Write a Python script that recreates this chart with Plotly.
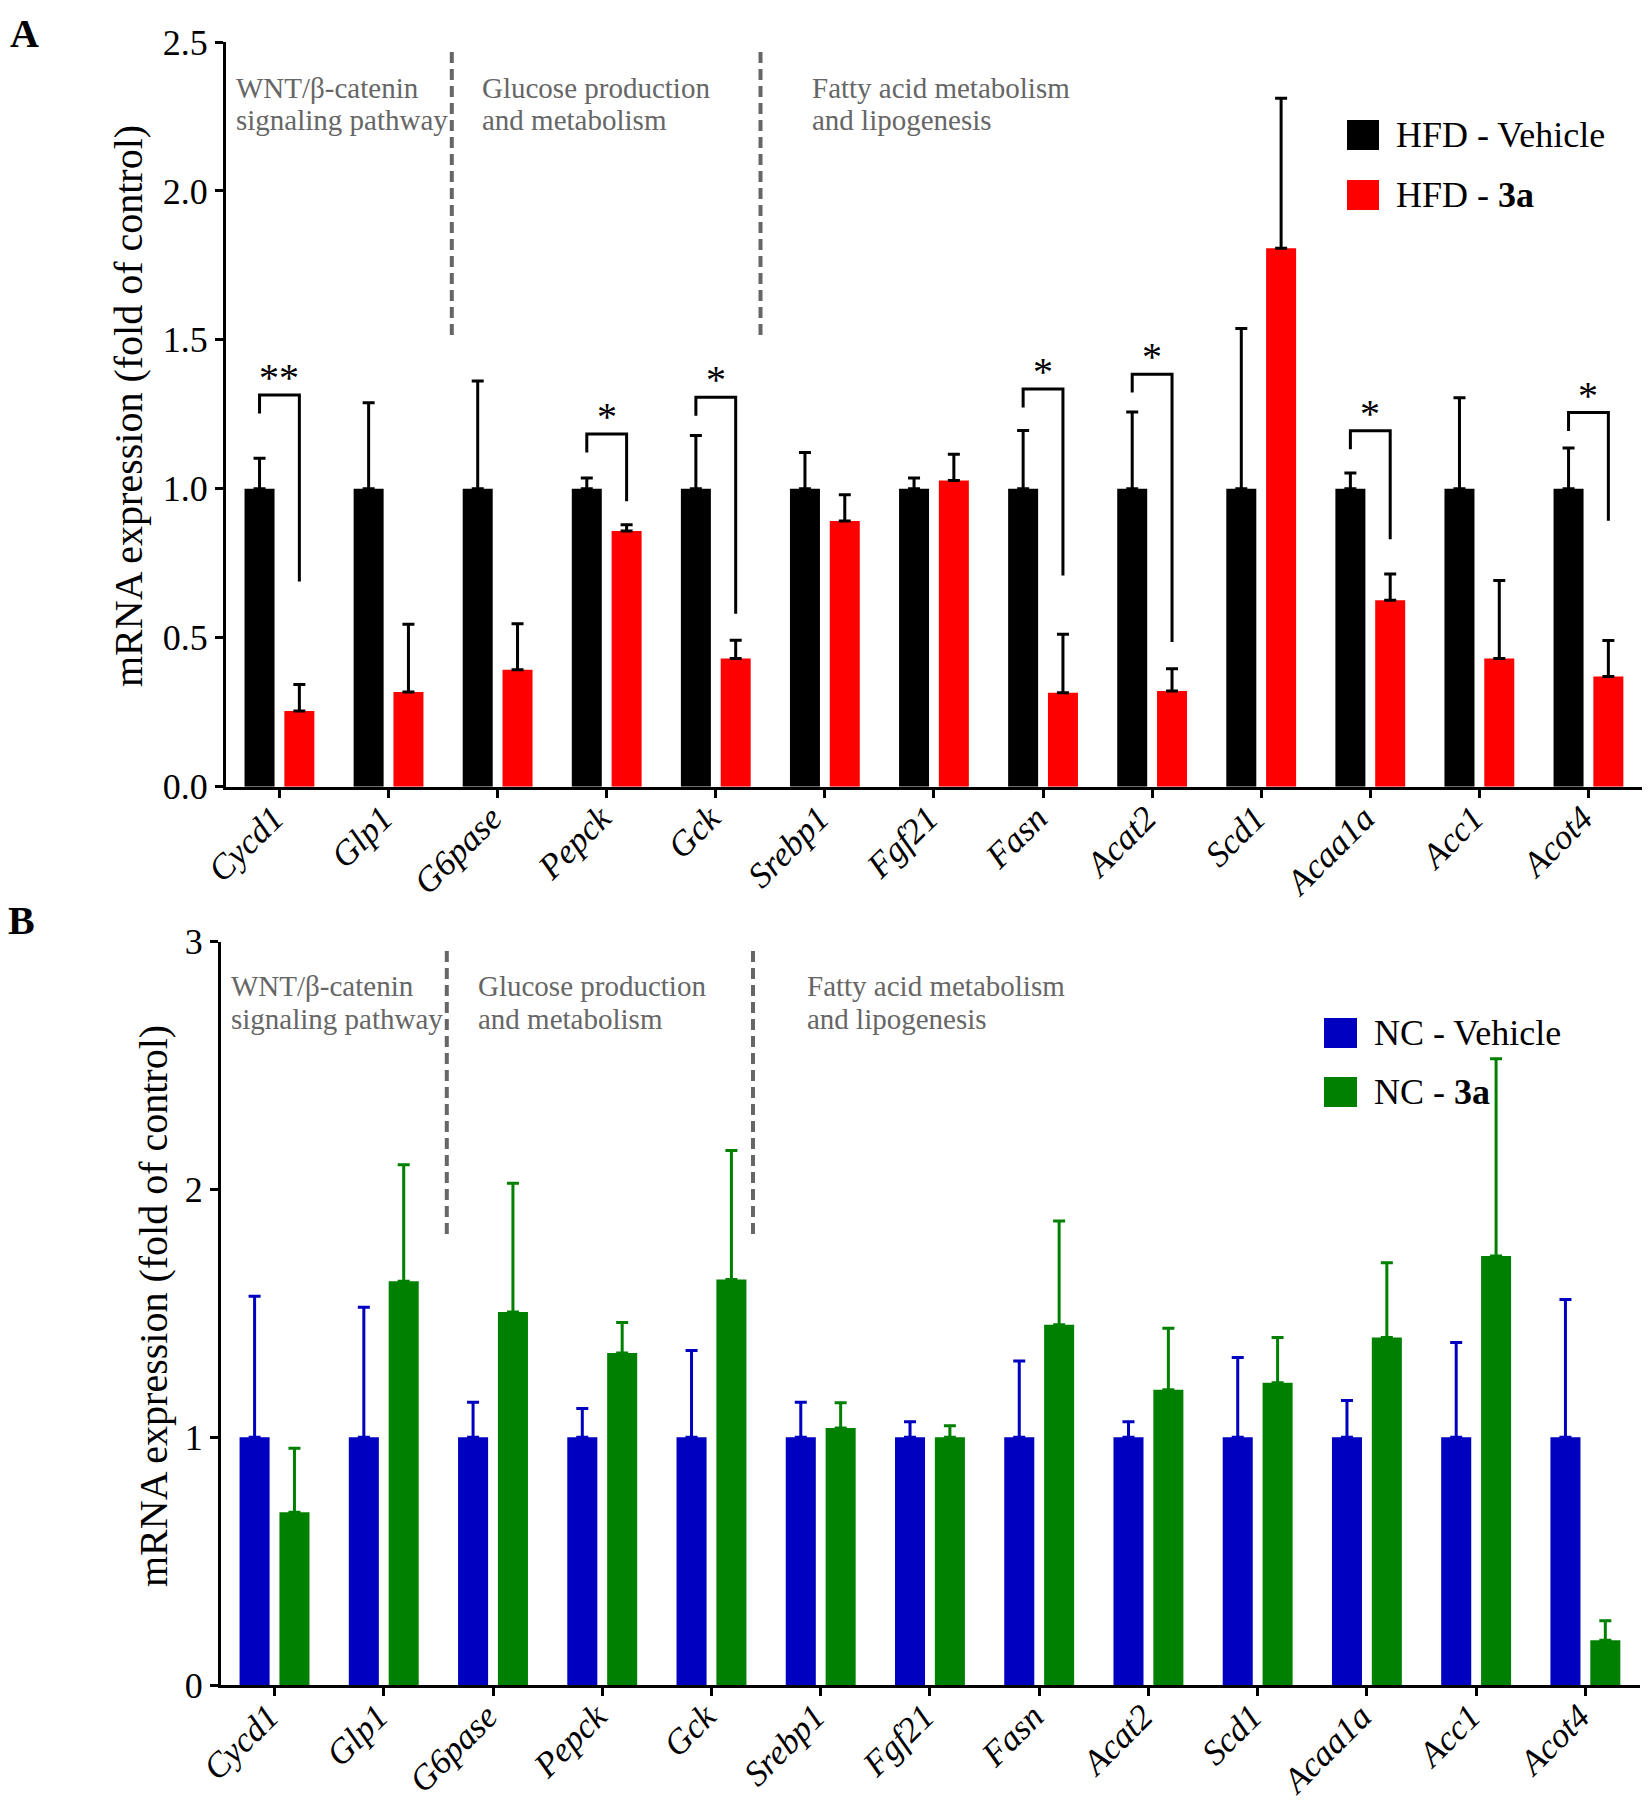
import plotly.graph_objects as go

# ---------------- data ----------------
genes = ["Cycd1", "Glp1", "G6pase", "Pepck", "Gck", "Srebp1", "Fgf21",
         "Fasn", "Acat2", "Scd1", "Acaa1a", "Acc1", "Acot4"]

# Panel A (HFD)
hfd_vehicle = [1.0, 1.0, 1.0, 1.0, 1.0, 1.0, 1.0, 1.0, 1.0, 1.0, 1.0, 1.0, 1.0]
hfd_vehicle_err = [0.103, 0.289, 0.362, 0.036, 0.179, 0.122, 0.036, 0.196, 0.258, 0.538, 0.053, 0.306, 0.137]
hfd_3a = [0.254, 0.318, 0.393, 0.858, 0.430, 0.892, 1.028, 0.315, 0.321, 1.808, 0.626, 0.430, 0.370]
hfd_3a_err = [0.089, 0.227, 0.154, 0.021, 0.062, 0.088, 0.088, 0.197, 0.075, 0.503, 0.088, 0.262, 0.121]

# significance brackets in panel A: gene, bracket top, right-leg bottom, label
sig_genes = ["Cycd1", "Pepck", "Gck", "Fasn", "Acat2", "Acaa1a", "Acot4"]
sig_top = [1.315, 1.184, 1.307, 1.335, 1.385, 1.195, 1.256]
sig_right_bottom = [0.689, 0.958, 0.581, 0.709, 0.486, 0.831, 0.893]
sig_label = ["**", "*", "*", "*", "*", "*", "*"]

# Panel B (NC)
nc_vehicle = [1.0, 1.0, 1.0, 1.0, 1.0, 1.0, 1.0, 1.0, 1.0, 1.0, 1.0, 1.0, 1.0]
nc_vehicle_err = [0.569, 0.525, 0.141, 0.116, 0.350, 0.141, 0.062, 0.308, 0.062, 0.322, 0.148, 0.382, 0.556]
nc_3a = [0.697, 1.630, 1.505, 1.340, 1.637, 1.037, 1.000, 1.454, 1.192, 1.220, 1.403, 1.731, 0.181]
nc_3a_err = [0.259, 0.470, 0.520, 0.123, 0.520, 0.102, 0.046, 0.419, 0.248, 0.183, 0.301, 0.797, 0.078]

group_lines = [("WNT/β-catenin", "signaling pathway"),
               ("Glucose production", "and metabolism"),
               ("Fatty acid metabolism", "and lipogenesis")]
group_x = [-0.415, 1.84, 4.86]
divider_x_A = [1.58, 4.41]
divider_x_B = [1.577, 4.38]

y_ticks_A = [0.0, 0.5, 1.0, 1.5, 2.0, 2.5]
y_ticks_B = [0, 1, 2, 3]

# ---------------- styling ----------------
PAGE_OFF = 8                     # default body margin of the html page
W, H = 1650 - PAGE_OFF, 1800 - PAGE_OFF
SERIF = "Liberation Serif"
BAR_W = 0.275
OFF1, OFF2 = -0.32, 0.045
C1 = OFF1 + BAR_W / 2
C2 = OFF2 + BAR_W / 2
GRAY = "#666666"

def px_x(p):
    return (p - PAGE_OFF) / W

def px_y(p):
    return 1 - (p - PAGE_OFF) / H

xidx = list(range(len(genes)))

fig = go.Figure()

def add_bars(vals, errs, color, errcolor, offset, xa, ya, name):
    fig.add_trace(go.Bar(
        x=xidx, y=vals, width=BAR_W, offset=offset, name=name,
        marker=dict(color=color, line=dict(width=0)),
        error_y=dict(type="data", symmetric=False, array=errs,
                     arrayminus=[0] * len(errs), color=errcolor,
                     thickness=3, width=6),
        xaxis=xa, yaxis=ya, showlegend=False))

add_bars(hfd_vehicle, hfd_vehicle_err, "#000000", "#000000", OFF1, "x", "y", "HFD - Vehicle")
add_bars(hfd_3a, hfd_3a_err, "#FF0000", "#000000", OFF2, "x", "y", "HFD - 3a")
add_bars(nc_vehicle, nc_vehicle_err, "#0000C0", "#0000C0", OFF1, "x2", "y2", "NC - Vehicle")
add_bars(nc_3a, nc_3a_err, "#008000", "#008000", OFF2, "x2", "y2", "NC - 3a")

shapes = []
annotations = []

# significance brackets
for g, top, rb, lab in zip(sig_genes, sig_top, sig_right_bottom, sig_label):
    i = genes.index(g)
    xl, xr = i + C1, i + C2
    shapes.append(dict(type="path", xref="x", yref="y",
                       path=f"M {xl},{top - 0.062} L {xl},{top} L {xr},{top} L {xr},{rb}",
                       line=dict(color="black", width=3)))
    annotations.append(dict(x=i, y=top, xref="x", yref="y", text=lab,
                            showarrow=False, xanchor="center", yanchor="bottom", yshift=-7,
                            font=dict(family=SERIF, size=40, color="black")))

# dashed dividers
for xv in divider_x_A:
    shapes.append(dict(type="line", xref="x", yref="y", x0=xv, x1=xv, y0=1.516, y1=2.48,
                       line=dict(color=GRAY, width=4, dash="11px,6px")))
for xv in divider_x_B:
    shapes.append(dict(type="line", xref="x2", yref="y2", x0=xv, x1=xv, y0=1.82, y1=2.98,
                       line=dict(color=GRAY, width=4, dash="11px,6px")))

# group labels
for (l1, l2), gx in zip(group_lines, group_x):
    for txt, yp in ((l1, 88), (l2, 120)):
        annotations.append(dict(x=gx, xref="x", y=px_y(yp), yref="paper", text=txt,
                                showarrow=False, xanchor="left", yanchor="middle",
                                font=dict(family=SERIF, size=29, color=GRAY)))
    for txt, yp in ((l1, 986), (l2, 1019)):
        annotations.append(dict(x=gx, xref="x2", y=px_y(yp), yref="paper", text=txt,
                                showarrow=False, xanchor="left", yanchor="middle",
                                font=dict(family=SERIF, size=29, color=GRAY)))

# legends (drawn manually for large swatches)
legend_items = [
    ("#000000", "HFD - Vehicle", 1347, 1379, 120, 150),
    ("#FF0000", "HFD - <b>3a</b>", 1347, 1379, 180, 210),
    ("#0000C0", "NC - Vehicle", 1324, 1357, 1018, 1048),
    ("#008000", "NC - <b>3a</b>", 1324, 1357, 1077, 1107),
]
for col, txt, x0, x1, y0, y1 in legend_items:
    shapes.append(dict(type="rect", xref="paper", yref="paper",
                       x0=px_x(x0), x1=px_x(x1), y0=px_y(y1), y1=px_y(y0),
                       fillcolor=col, line=dict(width=0)))
    annotations.append(dict(x=px_x(x1 + 15), y=px_y((y0 + y1) / 2), xref="paper", yref="paper",
                            text=txt, showarrow=False, xanchor="left", yanchor="middle",
                            font=dict(family=SERIF, size=36, color="black")))

# y-axis titles
for xp, yp in ((128, 406), (153, 1306)):
    annotations.append(dict(x=px_x(xp), y=px_y(yp), xref="paper", yref="paper",
                            text="mRNA expression (fold of control)", textangle=-90,
                            showarrow=False, xanchor="center", yanchor="middle",
                            font=dict(family=SERIF, size=40, color="black")))

# panel letters
annotations.append(dict(x=px_x(8), y=px_y(9), xref="paper", yref="paper",
                        text="<b>A</b>", showarrow=False, xanchor="left", yanchor="top",
                        font=dict(family=SERIF, size=40, color="black")))
annotations.append(dict(x=px_x(6), y=px_y(921), xref="paper", yref="paper",
                        text="<b>B</b>", showarrow=False, xanchor="left", yanchor="middle",
                        font=dict(family=SERIF, size=40, color="black")))

axis_common = dict(showline=True, linecolor="black", linewidth=3, ticks="outside",
                   ticklen=8, tickwidth=3, tickcolor="black", showgrid=False, zeroline=False,
                   automargin=False)

xaxis_common = dict(axis_common, range=[-0.49, 12.5], tickmode="array", tickvals=xidx,
                    ticktext=genes, tickangle=-45, ticklabelstandoff=-14, ticklabelshift=-6,
                    tickfont=dict(family=SERIF, size=35, color="black", style="italic"))

fig.update_layout(
    template="none",
    width=W, height=H, margin=dict(l=0, r=0, t=0, b=0, pad=0, autoexpand=False),
    paper_bgcolor="white", plot_bgcolor="white", barmode="overlay",
    xaxis=dict(xaxis_common, domain=[px_x(226), px_x(1643)], anchor="y"),
    yaxis=dict(axis_common, domain=[px_y(786.7), px_y(42)], range=[0, 2.5], anchor="x",
               tickmode="array", tickvals=y_ticks_A, ticktext=[f"{v:.1f}" for v in y_ticks_A],
               tickfont=dict(family=SERIF, size=36, color="black")),
    xaxis2=dict(xaxis_common, domain=[px_x(221), px_x(1640)], anchor="y2"),
    yaxis2=dict(axis_common, domain=[px_y(1685), px_y(941.7)], range=[0, 3], anchor="x2",
                tickmode="array", tickvals=y_ticks_B, ticktext=[str(v) for v in y_ticks_B],
                tickfont=dict(family=SERIF, size=36, color="black")),
    shapes=shapes, annotations=annotations, showlegend=False,
)

fig.write_html("out.html")
